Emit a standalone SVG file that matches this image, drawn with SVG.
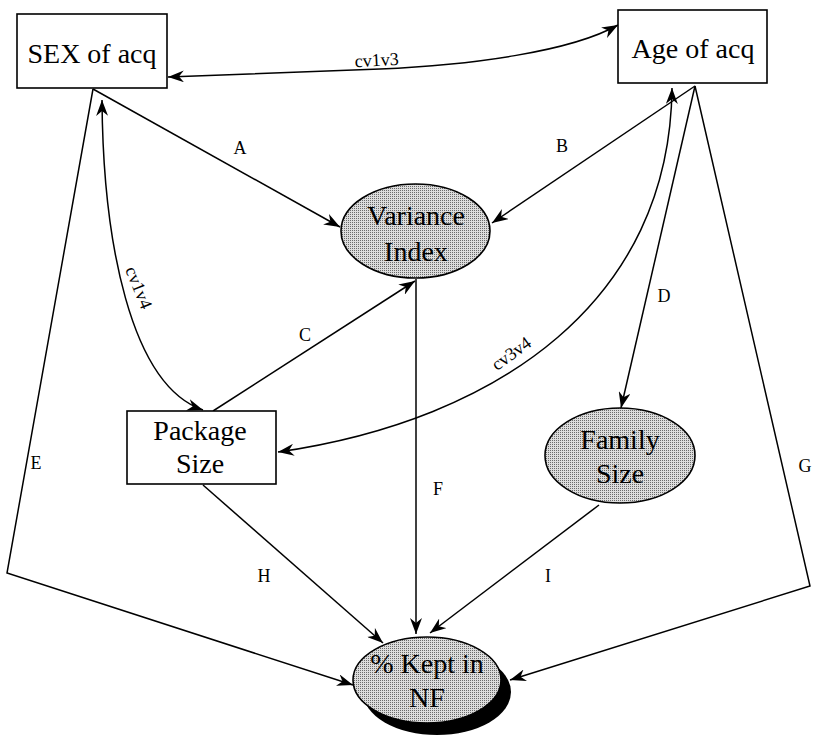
<svg xmlns="http://www.w3.org/2000/svg" width="813" height="739" viewBox="0 0 813 739">
<style>
.box{fill:#fff;stroke:#000;stroke-width:1.6}
.ell{fill:url(#dots);stroke:#000;stroke-width:1.6}
.nt{font-family:"Liberation Serif","Times New Roman",serif;font-size:28px;fill:#000;text-anchor:middle}
.lb{font-family:"Liberation Serif","Times New Roman",serif;font-size:18px;fill:#000;text-anchor:middle}
.ln{fill:none;stroke:#000;stroke-width:1.5}
.arr{marker-end:url(#ah)}
.bi{marker-start:url(#ah);marker-end:url(#ah)}
</style>
<defs>
<pattern id="dots" width="2" height="2" patternUnits="userSpaceOnUse">
<rect width="2" height="2" fill="#dcdcdc"/>
<rect width="1" height="1" fill="#6a6a6a"/>
</pattern>
<marker id="ah" markerUnits="userSpaceOnUse" markerWidth="18" markerHeight="12" refX="16" refY="6" orient="auto-start-reverse">
<path d="M0,0 L16,6 L0,12 L5,6 z" fill="#000"/>
</marker>
</defs>
<rect width="813" height="739" fill="#fff"/>
<g id="connectors">
<path id="eA" class="ln arr" d="M93,89 L340,227"/>
<path id="eE" class="ln arr" d="M93,89 L7,573 L353,685"/>
<path id="eB" class="ln arr" d="M695,86 L492,223"/>
<path id="eD" class="ln arr" d="M695,86 L621,408"/>
<path id="eG" class="ln arr" d="M695,86 L810,586 L510,680"/>
<path id="eC" class="ln arr" d="M213,411 L415,281"/>
<path id="eF" class="ln arr" d="M416,279 L416,634"/>
<path id="eH" class="ln arr" d="M203,485 L383,643"/>
<path id="eI" class="ln arr" d="M599,505 L430,633"/>
<path id="cv13" class="ln bi" d="M168,77 L380,69 C470,65 570,52 618,25"/>
<path id="cv14" class="ln bi" d="M102,100 C103,240 130,385 203,410"/>
<path id="cv34" class="ln bi" d="M672,88 C670,300 500,420 278,452"/>
<text class="lb" x="240" y="154">A</text>
<text class="lb" x="562" y="152">B</text>
<text class="lb" x="305" y="341">C</text>
<text class="lb" x="664" y="302">D</text>
<text class="lb" x="36" y="469">E</text>
<text class="lb" x="438" y="495">F</text>
<text class="lb" x="805" y="472">G</text>
<text class="lb" x="264" y="582">H</text>
<text class="lb" x="548" y="582">I</text>
<text class="lb" x="377" y="66" transform="rotate(-3 377 66)">cv1v3</text>
<text class="lb" transform="translate(138,288) rotate(68)" x="0" y="5">cv1v4</text>
<text class="lb" transform="translate(516,360) rotate(-36)" x="0" y="-2">cv3v4</text>
</g>
<g id="sex">
<rect class="box" x="17" y="14" width="150" height="74"/>
<text class="nt" x="92" y="63">SEX of acq</text>
</g>
<g id="age">
<rect class="box" x="618" y="10" width="149" height="73"/>
<text class="nt" x="693" y="58">Age of acq</text>
</g>
<g id="variance">
<ellipse class="ell" cx="415.5" cy="231" rx="74.5" ry="47"/>
<text class="nt" x="416" y="225">Variance</text>
<text class="nt" x="416" y="261">Index</text>
</g>
<g id="package">
<rect class="box" x="127" y="411" width="149" height="73"/>
<text class="nt" x="200" y="440">Package</text>
<text class="nt" x="200" y="473">Size</text>
</g>
<g id="family">
<ellipse class="ell" cx="620" cy="455.5" rx="75" ry="47.5"/>
<text class="nt" x="620" y="449">Family</text>
<text class="nt" x="620" y="483">Size</text>
</g>
<g id="kept">
<ellipse cx="437" cy="692" rx="74" ry="43" fill="#000"/>
<ellipse class="ell" cx="427" cy="680" rx="74" ry="43"/>
<text class="nt" x="427" y="673">% Kept in</text>
<text class="nt" x="427" y="707">NF</text>
</g>
</svg>
